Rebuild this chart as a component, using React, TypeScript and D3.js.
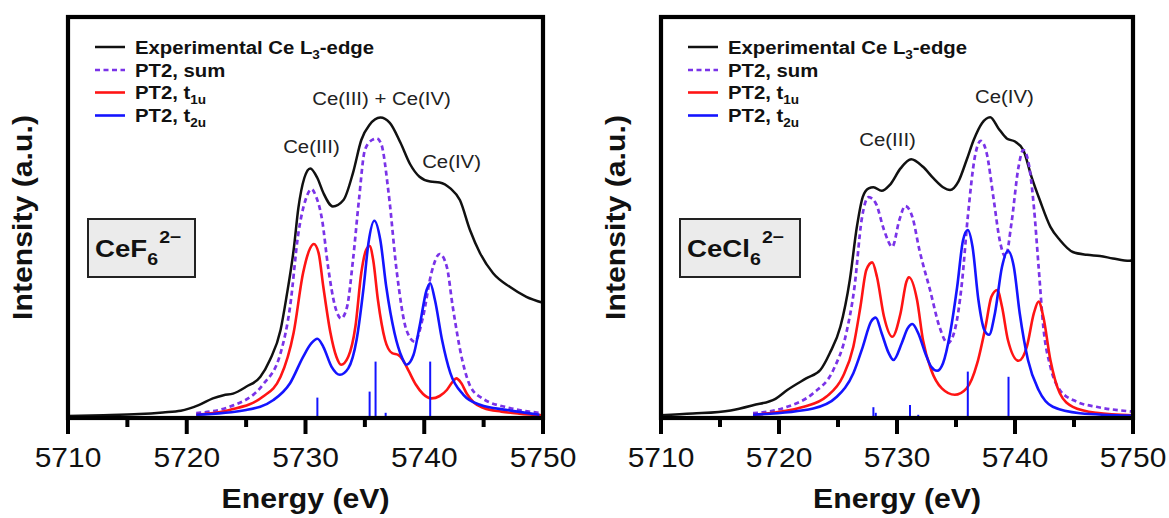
import React from 'react';
import * as d3 from 'd3';

type Pt = [number, number];

// ---------- data ----------
const energyTicks = [5710, 5720, 5730, 5740, 5750];
const energyMinorTicks = [5715, 5725, 5735, 5745];

const cef6Experimental: Pt[] = [
  [5710, 0], [5713, 0.2], [5716, 0.5], [5718, 0.9], [5719.5, 1.3], [5721, 2.7], [5722.2, 4.4],
  [5723.1, 5.2], [5723.9, 5.6], [5725, 7.3], [5726.2, 9.8], [5727, 14], [5727.9, 21.5],
  [5728.4, 29.8], [5729, 41.5], [5729.4, 52], [5729.9, 59.5], [5730.4, 61.9], [5731, 59.5],
  [5731.5, 55.8], [5732.3, 52.4], [5733.2, 54], [5734, 60.8], [5734.7, 69], [5735.4, 72.8],
  [5736.3, 74.6], [5737.1, 73.3], [5738, 68.3], [5738.8, 63], [5739.6, 59.8], [5740.5, 58.6],
  [5741.3, 58.4], [5742.2, 56.9], [5743, 54], [5743.85, 46.5], [5744.7, 40.7], [5745.8, 35.7],
  [5747.2, 32.3], [5748.6, 29.8], [5750, 28.3],
];
const cef6Sum: Pt[] = [
  [5720.8, 0.7], [5723.6, 2.3], [5726.4, 7.8], [5727.9, 15.7], [5728.7, 27.3], [5729.4, 45.7],
  [5730.0, 54], [5730.5, 56.7], [5730.9, 54.8], [5731.4, 49], [5731.9, 37.3], [5732.5, 27.3],
  [5733.0, 24.4], [5733.5, 27.3], [5734.0, 39], [5734.5, 54], [5735.0, 66.5], [5735.6, 69],
  [5736.0, 69.4], [5736.4, 67.8], [5737.0, 55.7], [5737.7, 35.7], [5738.5, 21.5], [5739.2, 18.6],
  [5739.9, 24.8], [5740.6, 35.7], [5741.3, 40.5], [5741.9, 37.3], [5742.4, 27.3], [5743.2, 14],
  [5743.9, 7.3], [5744.9, 4.4], [5747.2, 2], [5750, 0.7],
];
const cef6T1u: Pt[] = [
  [5720.8, 0.3], [5723.6, 1.5], [5726.4, 4.8], [5727.9, 9.8], [5729.0, 20.8], [5729.8, 35.8],
  [5730.4, 42], [5730.7, 43], [5731.1, 40.8], [5731.5, 32.3], [5732.1, 20.8], [5732.6, 14.8],
  [5733.0, 12.8], [5733.6, 14.8], [5734.2, 22.3], [5734.7, 35.8], [5735.1, 41.5], [5735.4, 42.5],
  [5735.7, 39], [5736.1, 29], [5736.7, 19], [5737.3, 15.7], [5737.8, 15.3], [5738.2, 14],
  [5738.7, 11.2], [5739.3, 7.8], [5739.9, 5.5], [5740.6, 4.4], [5741.3, 5], [5741.9, 6.5],
  [5742.4, 8.6], [5742.7, 9.4], [5743.1, 8.3], [5743.6, 5.5], [5744.2, 3.3], [5745, 2],
  [5746.5, 1.1], [5748, 0.6], [5750, 0.2],
];
const cef6T2u: Pt[] = [
  [5720.8, 0.3], [5725, 1.5], [5727.3, 4], [5728.7, 8.2], [5729.8, 14.8], [5730.5, 18.2],
  [5731.0, 19.3], [5731.5, 17.3], [5732.2, 12.3], [5732.9, 10.3], [5733.6, 11.9], [5734.3, 19],
  [5734.9, 32.3], [5735.3, 43.2], [5735.8, 48.8], [5736.3, 44], [5736.8, 32.3], [5737.5, 20.7],
  [5738.1, 14.8], [5738.5, 12.8], [5739.1, 15.3], [5739.6, 22.3], [5740.2, 31.5], [5740.5, 33.2],
  [5740.9, 29], [5741.5, 19], [5742.2, 10.7], [5743.3, 5.3], [5744.7, 2.8], [5747, 1.5],
  [5749.7, 0.3],
];
const cef6Sticks: Pt[] = [
  [5731.0, 4.6], [5735.4, 6.1], [5735.9, 13.6], [5736.75, 0.8], [5740.5, 13.6],
];

const cecl6Experimental: Pt[] = [
  [5710, 0.2], [5712.7, 0.6], [5715.9, 1.4], [5717.8, 2.7], [5719.7, 4.3], [5720.7, 6.5],
  [5722.3, 9.4], [5723.5, 11.5], [5724.3, 15.7], [5725.2, 22.3], [5726.0, 34], [5726.6, 47.3],
  [5727.1, 54.8], [5727.6, 56.9], [5728.0, 57.2], [5728.7, 56.3], [5729.4, 57.8], [5730.3, 61.9],
  [5731.2, 64.2], [5732.2, 62.3], [5733.1, 59.4], [5733.9, 57.2], [5734.5, 56.5], [5735.2, 58.6],
  [5735.9, 64], [5736.5, 69], [5737.2, 73.2], [5737.9, 74.7], [5738.6, 71.9], [5739.3, 69.4],
  [5740.0, 68.6], [5740.7, 66.5], [5741.4, 59.8], [5742.1, 54], [5743.0, 47.3], [5743.8, 44],
  [5744.9, 41], [5746.1, 40.3], [5747.2, 40], [5748.3, 39.4], [5749.7, 38.8], [5750, 39],
];
const cecl6Sum: Pt[] = [
  [5717.8, 0.7], [5720.7, 2.3], [5722.9, 5.7], [5724.6, 11.5], [5725.7, 20.7], [5726.4, 32.3],
  [5727.0, 49], [5727.6, 54.7], [5728.2, 53.2], [5728.9, 46.5], [5729.6, 42.3], [5730.2, 49],
  [5730.7, 52.5], [5731.3, 49.8], [5731.9, 41.5], [5732.8, 31.5], [5733.6, 22.3], [5734.3, 18.2],
  [5734.9, 21.5], [5735.5, 33.2], [5736.0, 49.8], [5736.6, 64.8], [5737.1, 68.8], [5737.6, 65.7],
  [5738.2, 54], [5738.7, 44], [5739.2, 39.8], [5739.7, 48.2], [5740.3, 62.3], [5740.7, 66.5],
  [5741.1, 64], [5741.6, 52.3], [5742.0, 37.3], [5742.4, 22.3], [5743.0, 12.3], [5743.8, 6.5],
  [5745.2, 3.6], [5746.9, 2.3], [5750, 1.1],
];
const cecl6T1u: Pt[] = [
  [5717.8, 0.3], [5722.1, 2.3], [5724.0, 4.8], [5725.4, 9.8], [5726.3, 17.3], [5726.9, 27.3],
  [5727.4, 36.5], [5727.9, 38.4], [5728.3, 34.8], [5728.9, 24.8], [5729.6, 19.8], [5730.3, 25.7],
  [5730.8, 33.6], [5731.0, 34.7], [5731.7, 29], [5732.2, 19], [5732.9, 11.5], [5733.8, 6.9],
  [5734.9, 5.3], [5735.9, 6.9], [5736.8, 13.2], [5737.5, 22.3], [5738.0, 29.8], [5738.5, 31.5],
  [5738.9, 27.3], [5739.4, 19], [5740.3, 13.8], [5741.0, 17.3], [5741.6, 25.7], [5742.0, 28.6],
  [5742.4, 24.8], [5743.0, 14], [5743.8, 5.7], [5744.9, 2.3], [5746.9, 0.8], [5750, 0.2],
];
const cecl6T2u: Pt[] = [
  [5717.8, 0.3], [5722.9, 1.9], [5724.9, 4.8], [5726.3, 10.7], [5727.1, 17.3], [5727.8, 23.6],
  [5728.2, 24.6], [5728.7, 20.7], [5729.3, 15.7], [5729.7, 14], [5730.4, 18.2], [5730.9, 21.9],
  [5731.3, 23], [5731.8, 20.7], [5732.4, 15.7], [5732.9, 12.3], [5733.4, 11.3], [5733.9, 13.2],
  [5734.5, 20.7], [5735.1, 32.3], [5735.6, 44], [5736.0, 46.5], [5736.4, 42.3], [5736.9, 29],
  [5737.4, 21.5], [5737.8, 20.3], [5738.3, 25.7], [5738.9, 37.3], [5739.4, 41.3], [5739.9, 37.3],
  [5740.4, 25.7], [5741.1, 14], [5742.0, 6.5], [5743.2, 2.3], [5745.5, 0.7], [5750, 0.1],
];
const cecl6Sticks: Pt[] = [
  [5728.0, 2.2], [5728.2, 0.8], [5731.1, 2.75], [5731.8, 0.3], [5736.0, 11.1], [5739.45, 9.8],
];

const cef6PeakLabels = ['Ce(III)', 'Ce(III) + Ce(IV)', 'Ce(IV)'];
const cecl6PeakLabels = ['Ce(III)', 'Ce(IV)'];

// ---------- styling ----------
const FONT = '"Liberation Sans", Arial, Helvetica, sans-serif';
const SX = 1.13;
const BLACK = '#111';
const PURPLE = '#7a33e8';
const RED = '#ff1414';
const BLUE = '#1414ff';

type Ann = { text: string; e: number; y: number };

type PanelProps = {
  x0: number;
  x1: number;
  exp: Pt[];
  sum: Pt[];
  t1u: Pt[];
  t2u: Pt[];
  sticks: Pt[];
  species: string;
  box: { x: number; w: number };
  anns: Ann[];
  ylabelX: number;
};

function Panel(p: PanelProps) {
  const xs = d3.scaleLinear().domain([5710, 5750]).range([p.x0, p.x1]);
  const ys = d3.scaleLinear().domain([0, 100]).range([416, 16]);
  const line = d3
    .line<Pt>()
    .x((d) => xs(d[0]))
    .y((d) => ys(d[1]))
    .curve(d3.curveMonotoneX);
  const top = 17;
  const bottom = 418;
  const legendRows = [47, 70, 92.5, 115.5];
  const lx = p.x0 + 27;
  const tx = p.x0 + 67;
  const midX = (p.x0 + p.x1) / 2;

  const legendText = (i: number, content: React.ReactNode) => (
    <text
      transform={`translate(${tx},${legendRows[i] + 6.5}) scale(${SX},1)`}
      fontFamily={FONT}
      fontWeight="bold"
      fontSize={18}
      fill="#111"
    >
      {content}
    </text>
  );

  return (
    <g>
      {/* curves */}
      <path d={line(p.exp) || ''} fill="none" stroke={BLACK} strokeWidth={2.5} />
      <path d={line(p.sum) || ''} fill="none" stroke={PURPLE} strokeWidth={2.7} strokeDasharray="5,3.5" />
      <path d={line(p.t1u) || ''} fill="none" stroke={RED} strokeWidth={2.6} />
      <path d={line(p.t2u) || ''} fill="none" stroke={BLUE} strokeWidth={2.6} />
      {p.sticks.map((s, i) => (
        <line key={i} x1={xs(s[0])} x2={xs(s[0])} y1={ys(0)} y2={ys(s[1])} stroke={BLUE} strokeWidth={2} />
      ))}

      {/* frame */}
      <rect x={p.x0} y={top} width={p.x1 - p.x0} height={bottom - top} fill="none" stroke="#000" strokeWidth={4.2} />
      {energyTicks.map((t) => (
        <g key={t}>
          <line x1={xs(t)} x2={xs(t)} y1={bottom} y2={434} stroke="#000" strokeWidth={4} />
          <text
            transform={`translate(${xs(t)},467) scale(1.07,1)`}
            textAnchor="middle"
            fontFamily={FONT}
            fontSize={28}
            fill="#111"
          >
            {t}
          </text>
        </g>
      ))}
      {energyMinorTicks.map((t) => (
        <line key={t} x1={xs(t)} x2={xs(t)} y1={bottom} y2={427} stroke="#000" strokeWidth={4} />
      ))}

      {/* axis titles */}
      <text
        transform={`translate(${midX},508) scale(1.12,1)`}
        textAnchor="middle"
        fontFamily={FONT}
        fontWeight="bold"
        fontSize={27}
        fill="#111"
      >
        Energy (eV)
      </text>
      <text
        transform={`translate(${p.ylabelX},217.5) rotate(-90) scale(1.12,1)`}
        textAnchor="middle"
        fontFamily={FONT}
        fontWeight="bold"
        fontSize={27}
        fill="#111"
      >
        Intensity (a.u.)
      </text>

      {/* legend */}
      <line x1={lx} x2={lx + 30} y1={legendRows[0]} y2={legendRows[0]} stroke={BLACK} strokeWidth={2.5} />
      <line x1={lx} x2={lx + 30} y1={legendRows[1]} y2={legendRows[1]} stroke={PURPLE} strokeWidth={2.7} strokeDasharray="5,3.5" />
      <line x1={lx} x2={lx + 30} y1={legendRows[2]} y2={legendRows[2]} stroke={RED} strokeWidth={2.6} />
      <line x1={lx} x2={lx + 30} y1={legendRows[3]} y2={legendRows[3]} stroke={BLUE} strokeWidth={2.6} />
      {legendText(
        0,
        <>
          Experimental Ce L
          <tspan fontSize={12} dy={5}>3</tspan>
          <tspan dy={-5}>-edge</tspan>
        </>
      )}
      {legendText(1, <>PT2, sum</>)}
      {legendText(
        2,
        <>
          PT2, t<tspan fontSize={12} dy={5}>1u</tspan>
        </>
      )}
      {legendText(
        3,
        <>
          PT2, t<tspan fontSize={12} dy={5}>2u</tspan>
        </>
      )}

      {/* peak annotations */}
      {p.anns.map((a, i) => (
        <text
          key={i}
          transform={`translate(${xs(a.e)},${ys(a.y)}) scale(1.1,1)`}
          textAnchor="middle"
          fontFamily={FONT}
          fontSize={18.5}
          fill="#222"
        >
          {a.text}
        </text>
      ))}

      {/* species box */}
      <rect x={p.box.x} y={219} width={p.box.w} height={58} fill="#ebebeb" stroke="#222" strokeWidth={2} />
      <text
        transform={`translate(${p.box.x + 7},257) scale(1.15,1)`}
        fontFamily={FONT}
        fontWeight="bold"
        fontSize={24}
        fill="#111"
      >
        {p.species}
        <tspan fontSize={17} dy={8}>6</tspan>
        <tspan fontSize={17} dy={-22} dx={1}>2−</tspan>
      </text>
    </g>
  );
}

export default function App() {
  return (
    <svg
      width={1169}
      height={518}
      viewBox="0 0 1169 518"
      style={{ position: 'absolute', left: 0, top: 0, background: '#fff' }}
    >
      <rect x={0} y={0} width={1169} height={518} fill="#fff" />
      <Panel
        x0={68}
        x1={543}
        exp={cef6Experimental}
        sum={cef6Sum}
        t1u={cef6T1u}
        t2u={cef6T2u}
        sticks={cef6Sticks}
        species="CeF"
        box={{ x: 88, w: 107 }}
        ylabelX={32}
        anns={[
          { text: cef6PeakLabels[0], e: 5730.5, y: 65.8 },
          { text: cef6PeakLabels[1], e: 5736.4, y: 77.8 },
          { text: cef6PeakLabels[2], e: 5742.3, y: 62 },
        ]}
      />
      <Panel
        x0={661}
        x1={1133}
        exp={cecl6Experimental}
        sum={cecl6Sum}
        t1u={cecl6T1u}
        t2u={cecl6T2u}
        sticks={cecl6Sticks}
        species="CeCl"
        box={{ x: 680, w: 120 }}
        ylabelX={625}
        anns={[
          { text: cecl6PeakLabels[0], e: 5729.2, y: 67.5 },
          { text: cecl6PeakLabels[1], e: 5739.1, y: 78.2 },
        ]}
      />
    </svg>
  );
}
